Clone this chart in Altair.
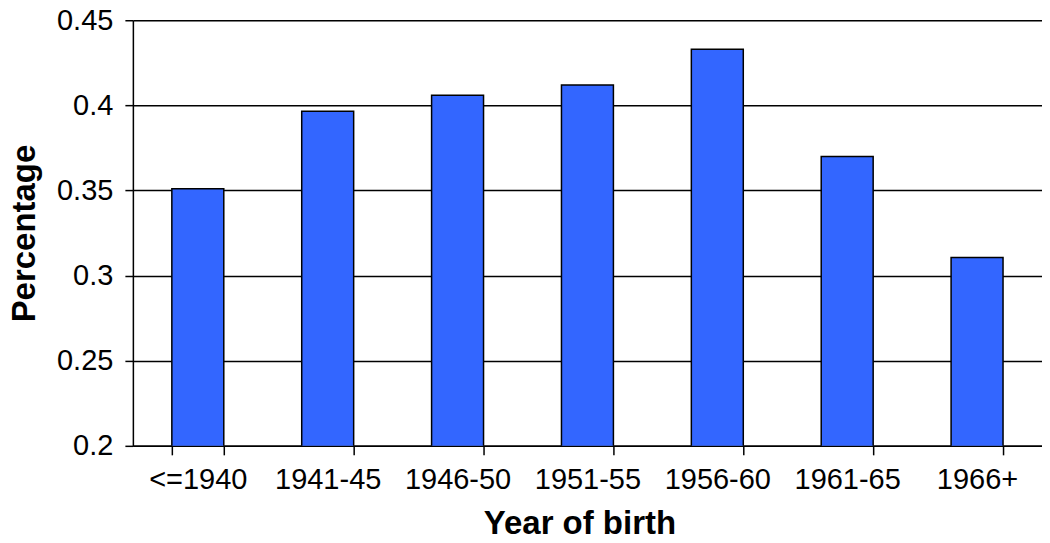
import altair as alt
import pandas as pd

categories = ["<=1940", "1941-45", "1946-50", "1951-55", "1956-60", "1961-65", "1966+"]
values = [0.351, 0.3965, 0.406, 0.412, 0.433, 0.370, 0.3107]

df = pd.DataFrame({"cohort": categories, "pct": values})

FONT = "Liberation Sans"

chart = (
    alt.Chart(df)
    .mark_bar(color="#3366FF", stroke="black", strokeWidth=1.5, clip=True)
    .encode(
        x=alt.X(
            "cohort:N",
            sort=categories,
            scale=alt.Scale(paddingInner=0.6, paddingOuter=0.3),
            axis=alt.Axis(
                title="Year of birth",
                labelAngle=0,
                tickBand="extent",
                tickSize=9,
                tickColor="black",
                tickWidth=1.5,
                domainColor="black",
                domainWidth=1.5,
                labelFont=FONT,
                labelFontSize=29,
                labelColor="black",
                labelPadding=11,
                titleFont=FONT,
                titleFontSize=33,
                titleFontWeight="bold",
                titleColor="black",
                titleBaseline="alphabetic",
                titleX=447,
                titleY=88,
                grid=False,
            ),
        ),
        y=alt.Y(
            "pct:Q",
            scale=alt.Scale(domain=[0.2, 0.45], zero=False, nice=False),
            axis=alt.Axis(
                title="Percentage",
                values=[0.2, 0.25, 0.3, 0.35, 0.4, 0.45],
                format=".2~f",
                tickSize=8,
                tickColor="black",
                tickWidth=1.5,
                domainColor="black",
                domainWidth=1.5,
                grid=True,
                gridColor="black",
                gridWidth=1.5,
                gridOpacity=1,
                labelFont=FONT,
                labelFontSize=29,
                labelColor="black",
                labelPadding=12,
                titleFont=FONT,
                titleFontSize=33,
                titleFontWeight="bold",
                titleColor="black",
                titleBaseline="alphabetic",
                titleX=-98,
                titleY=213,
                titleAngle=270,
            ),
        ),
    )
    .properties(
        width=910,
        height=426,
        autosize=alt.AutoSizeParams(type="none"),
        padding={"left": 125, "top": 12, "right": 0, "bottom": 89},
    )
    .configure_view(stroke="black", strokeWidth=1.5)
    .configure(background="white")
)

chart.save("out.html", embed_options={"renderer": "svg", "actions": False})
